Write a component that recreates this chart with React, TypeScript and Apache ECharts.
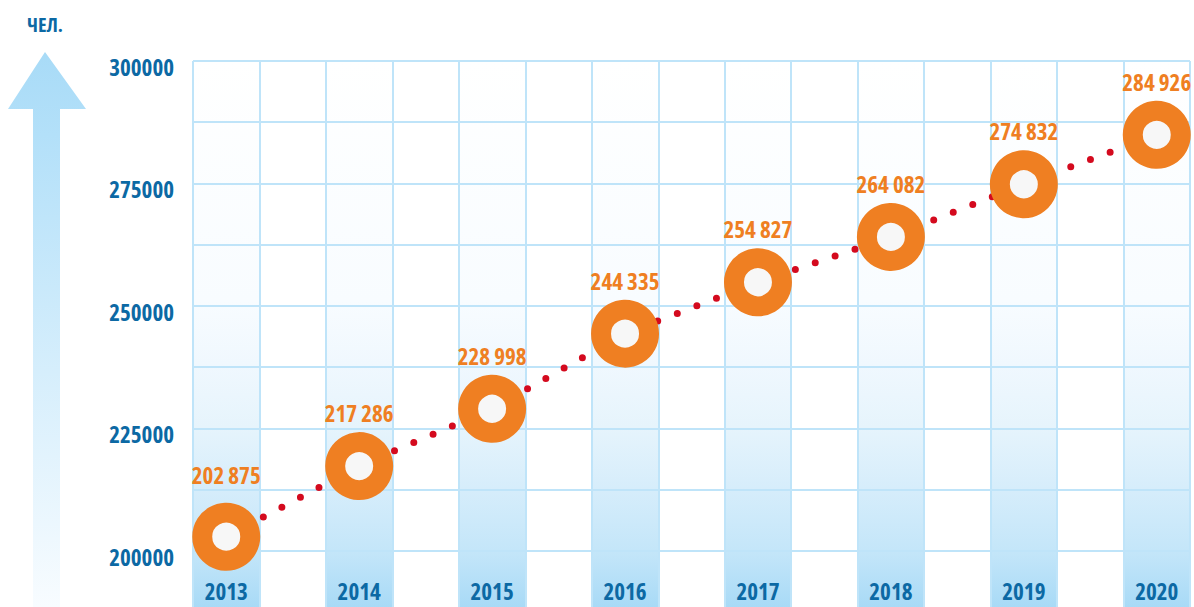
import React, { useEffect, useRef } from "react";
import * as echarts from "echarts";

const years = ["2013", "2014", "2015", "2016", "2017", "2018", "2019", "2020"];
const values = [202875, 217286, 228998, 244335, 254827, 264082, 274832, 284926];
const yTickLabels = [200000, 225000, 250000, 275000, 300000];
const unitLabel = "ЧЕЛ.";

// condensed bold face of Open Sans (width axis) for series / axis labels
const FAMILY = "'Open Sans', sans-serif;font-stretch:condensed";
const SHORT_FONT = "bold condensed 20px 'Open Sans', sans-serif";
const BLUE_TEXT = "#0c69a4";
const ORANGE = "#ef7f22";
const GRID_LINE = "#bfe4f9";

function fmt(v: number): string {
  return String(v).replace(/\B(?=(\d{3})+(?!\d))/g, " ");
}

export default function App() {
  const ref = useRef<HTMLDivElement>(null);

  useEffect(() => {
    if (!ref.current) return;
    const chart = echarts.init(ref.current, undefined, { renderer: "svg" });

    const cats: string[] = [];
    years.forEach((y, i) => {
      cats.push(y);
      if (i < years.length - 1) cats.push(y + "-" + years[i + 1]);
    });
    const barData = cats.map((_, i) => (i % 2 === 0 ? 300000 : "-"));
    const pts = values.map((v, i) => [i * 2, v]);
    const scatterData = pts.map((p, i) =>
      i === 0 ? { value: p, label: { distance: 16 } } : { value: p }
    );

    chart.setOption({
      animation: false,
      backgroundColor: "#ffffff",
      grid: { left: 193, right: 4, top: 61, bottom: -5, containLabel: false, outerBoundsMode: "none" },
      xAxis: {
        type: "category",
        data: cats,
        boundaryGap: true,
        axisLine: { show: false },
        axisTick: { show: false },
        axisLabel: {
          inside: true,
          margin: 9,
          interval: 0,
          lineHeight: 24,
          formatter: (v: string) => (years.includes(v) ? v : ""),
          color: BLUE_TEXT,
          fontFamily: FAMILY,
          fontWeight: "bold",
          fontSize: 23,
        },
        splitLine: { show: true, interval: 0, lineStyle: { color: GRID_LINE, width: 2 } },
        z: 1,
      },
      yAxis: {
        type: "value",
        min: 187500,
        max: 300000,
        interval: 12500,
        axisLine: { show: false },
        axisTick: { show: false },
        axisLabel: {
          margin: 19,
          verticalAlign: "top",
          lineHeight: 12,
          formatter: (v: number) => (yTickLabels.includes(v) ? String(v) : ""),
          color: BLUE_TEXT,
          fontFamily: FAMILY,
          fontWeight: "bold",
          fontSize: 23,
        },
        splitLine: { show: true, lineStyle: { color: GRID_LINE, width: 2 } },
        z: 1,
      },
      graphic: [
        {
          type: "polygon",
          shape: {
            points: [[45, 52], [86, 109], [60, 109], [60, 607], [33, 607], [33, 109], [8, 109]],
          },
          style: {
            fill: new echarts.graphic.LinearGradient(0, 0, 0, 1, [
              { offset: 0, color: "#a8dbf7" },
              { offset: 0.15, color: "#b3e0f9" },
              { offset: 1, color: "#f8fcff" },
            ]),
          },
        },
        {
          type: "text",
          left: 27,
          top: 14,
          style: { text: unitLabel, fill: BLUE_TEXT, font: SHORT_FONT },
        },
      ],
      series: [
        {
          type: "bar",
          data: barData,
          barWidth: "100%",
          z: -1,
          silent: true,
          itemStyle: {
            color: new echarts.graphic.LinearGradient(0, 0, 0, 1, [
              { offset: 0, color: "#ffffff" },
              { offset: 0.434, color: "#f8fcff" },
              { offset: 0.548, color: "#f0f8fe" },
              { offset: 0.664, color: "#e6f4fc" },
              { offset: 0.777, color: "#d6edfb" },
              { offset: 0.889, color: "#c4e6f9" },
              { offset: 1, color: "#a6d9f6" },
            ]),
          },
        },
        {
          type: "line",
          data: pts,
          symbol: "none",
          z: 3,
          lineStyle: { color: "#d40a1e", width: 7, type: [0, 21], cap: "round" },
        },
        {
          type: "scatter",
          data: scatterData,
          symbol: "circle",
          symbolSize: 48,
          z: 4,
          itemStyle: { color: "#f7f7f7", borderColor: ORANGE, borderWidth: 20, opacity: 1 },
          label: {
            show: true,
            position: "top",
            distance: 7,
            lineHeight: 24,
            formatter: (p: any) => fmt(p.value[1]),
            color: ORANGE,
            fontFamily: FAMILY,
            fontWeight: "bold",
            fontSize: 23,
          },
        },
      ],
    });

    return () => chart.dispose();
  }, []);

  return (
    <div ref={ref} style={{ position: "fixed", left: 0, top: 0, width: 1194, height: 607 }} />
  );
}
